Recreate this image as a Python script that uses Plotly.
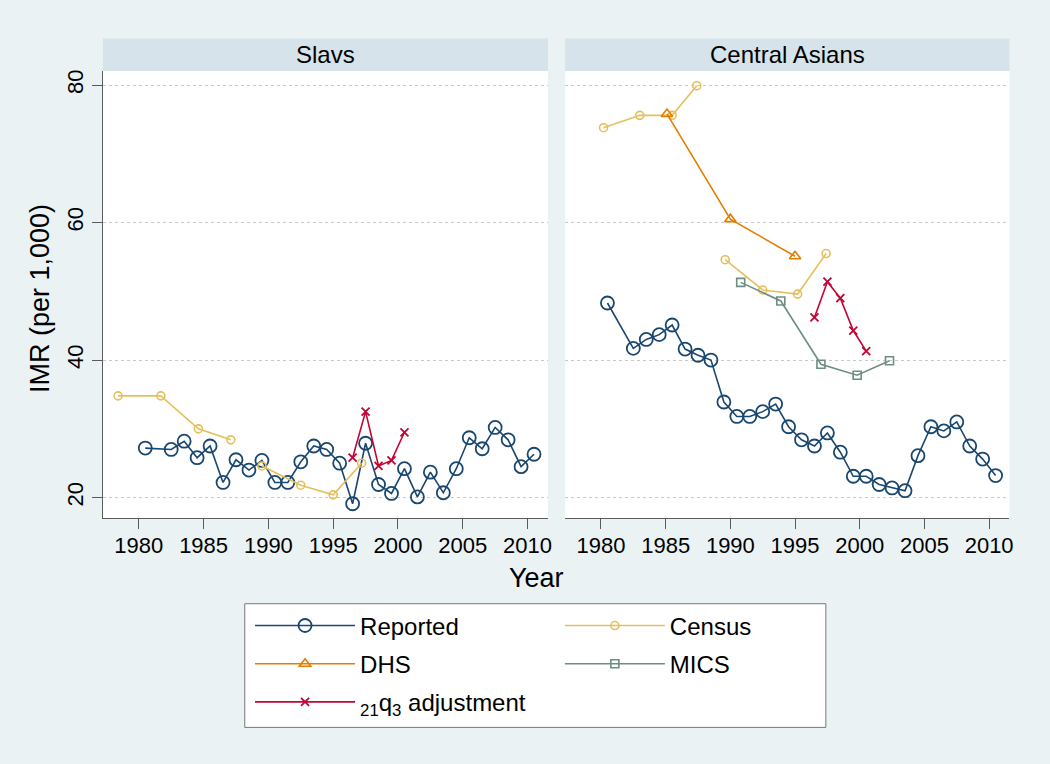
import plotly.graph_objects as go

# ---------------- data ----------------
rep_years = [1980.5, 1982.5, 1983.5, 1984.5, 1985.5, 1986.5, 1987.5, 1988.5, 1989.5,
             1990.5, 1991.5, 1992.5, 1993.5, 1994.5, 1995.5, 1996.5, 1997.5, 1998.5,
             1999.5, 2000.5, 2001.5, 2002.5, 2003.5, 2004.5, 2005.5, 2006.5, 2007.5,
             2008.5, 2009.5, 2010.5]
rep_slavs = [27.2, 27.0, 28.2, 25.8, 27.5, 22.2, 25.5, 24.0, 25.4, 22.2, 22.2, 25.2,
             27.5, 27.0, 25.0, 19.1, 27.9, 21.9, 20.6, 24.2, 20.1, 23.7, 20.7, 24.2,
             28.7, 27.1, 30.2, 28.4, 24.5, 26.3]
rep_casia = [48.3, 41.7, 43.0, 43.7, 45.1, 41.6, 40.7, 40.0, 33.9, 31.8, 31.8, 32.5,
             33.6, 30.3, 28.4, 27.5, 29.4, 26.6, 23.1, 23.1, 21.9, 21.4, 21.0, 26.1,
             30.3, 29.7, 31.0, 27.5, 25.6, 23.2]

census_years_slavs = [1978.4, 1981.7, 1984.6, 1987.1, None, 1989.5, 1992.5, 1995.0, 1997.2]
census_slavs = [34.8, 34.8, 30.0, 28.4, None, 24.6, 21.8, 20.4, 25.0]
census_years_casia = [1980.2, 1983.0, 1985.5, 1987.4, None, 1989.6, 1992.5, 1995.2, 1997.4]
census_casia = [73.8, 75.6, 75.6, 79.9, None, 54.6, 50.2, 49.6, 55.5]

dhs_years_casia = [1985.1, 1990.0, 1995.0]
dhs_casia = [75.8, 60.5, 55.1]

mics_years_casia = [1990.8, 1993.9, 1997.0, 1999.8, 2002.3]
mics_casia = [51.3, 48.6, 39.4, 37.8, 39.9]

adj_years = [1996.5, 1997.5, 1998.5, 1999.5, 2000.5]
adj_slavs = [25.8, 32.5, 24.6, 25.4, 29.5]
adj_casia = [46.2, 51.4, 49.0, 44.3, 41.3]

panels = ["Slavs", "Central Asians"]
x_ticks = [1980, 1985, 1990, 1995, 2000, 2005, 2010]
y_ticks = [20, 40, 60, 80]

# ---------------- style ----------------
C_REP = "rgb(26,71,111)"
C_CEN = "rgb(228,192,92)"
C_DHS = "rgb(227,126,0)"
C_MICS = "rgb(110,142,132)"
C_ADJ = "rgb(193,5,52)"
BG = "rgb(234,242,243)"
STRIP = "rgb(214,227,234)"
FONT = "Liberation Sans, Arial, Helvetica, sans-serif"

W, H = 1050, 764
def px(x):
    return x / W
def py(y):
    return 1 - y / H

fig = go.Figure()

def add(xs, ys, name, color, symbol, size, xa, ya, legend, show, rank, lw=1.6):
    fig.add_trace(go.Scatter(
        x=xs, y=ys, mode="lines+markers", name=name, xaxis=xa, yaxis=ya,
        line=dict(color=color, width=1.6), connectgaps=False,
        marker=dict(symbol=symbol, size=size, color=color,
                    line=dict(color=color, width=lw)),
        legend=legend, showlegend=show, legendgroup=name, legendrank=rank,
    ))

# Slavs panel
add(rep_years, rep_slavs, "Reported", C_REP, "circle-open", 13, "x", "y", "legend", True, 1, 1.8)
add(census_years_slavs, census_slavs, "Census", C_CEN, "circle-open", 8, "x", "y", "legend2", True, 1)
add(adj_years, adj_slavs, "<sub>21</sub>q<sub>3</sub> adjustment", C_ADJ, "x-thin-open", 8, "x", "y", "legend", True, 3, 1.8)
# Central Asians panel
add(rep_years, rep_casia, "Reported", C_REP, "circle-open", 13, "x2", "y2", "legend", False, 1, 1.8)
add(census_years_casia, census_casia, "Census", C_CEN, "circle-open", 8, "x2", "y2", "legend2", False, 1)
add(dhs_years_casia, dhs_casia, "DHS", C_DHS, "triangle-up-open", 10, "x2", "y2", "legend", True, 2)
add(mics_years_casia, mics_casia, "MICS", C_MICS, "square-open", 8, "x2", "y2", "legend2", True, 2)
add(adj_years, adj_casia, "<sub>21</sub>q<sub>3</sub> adjustment", C_ADJ, "x-thin-open", 8, "x2", "y2", "legend", False, 3, 1.8)

xl = [px(103.3), px(550)]
xr = [px(567.3), px(1013.3)]
yd = [py(517.7), py(69.3)]
xrange = [1977.23, 2011.57]
yrange = [16.98, 82.03]

xcommon = dict(range=xrange, tickvals=x_ticks, ticks="outside", ticklen=10, tickwidth=1,
               tickcolor="rgb(90,90,90)", showline=True, linecolor="rgb(90,90,90)",
               linewidth=1, showgrid=False, zeroline=False, ticklabelstandoff=-3,
               tickfont=dict(family=FONT, size=22, color="black"), fixedrange=True)
ygrid = dict(range=yrange, tickvals=y_ticks, showgrid=True, gridcolor="rgb(200,200,200)",
             griddash="dot", gridwidth=1, zeroline=False, fixedrange=True)

legend_common = dict(xanchor="left", yanchor="top", orientation="v",
                     bgcolor="rgba(0,0,0,0)", borderwidth=0, itemwidth=100, tracegroupgap=4,
                     font=dict(family=FONT, size=24, color="black"), itemclick=False)

fig.update_layout(
    width=W, height=H, paper_bgcolor=BG, plot_bgcolor="white",
    margin=dict(l=0, r=0, t=0, b=0), autosize=False,
    xaxis=dict(domain=xl, anchor="y", **xcommon),
    xaxis2=dict(domain=xr, anchor="y2", **xcommon),
    yaxis=dict(domain=yd, anchor="x", ticks="outside", ticklen=10, tickcolor="rgb(90,90,90)",
               showline=True, linecolor="rgb(90,90,90)", linewidth=1, tickangle=-90,
               tickfont=dict(family=FONT, size=22, color="black"), **ygrid),
    yaxis2=dict(domain=yd, anchor="x2", showticklabels=False, ticks="", showline=False, **ygrid),
    font=dict(family=FONT, color="black"),
    legend=dict(x=px(251), y=py(603), **legend_common),
    legend2=dict(x=px(562), y=py(603), **legend_common),
)

shapes = []
# header strips
for dom in (xl, xr):
    shapes.append(dict(type="rect", xref="paper", yref="paper", x0=dom[0], x1=dom[1],
                       y0=py(69.3), y1=py(36.7), fillcolor=STRIP, line=dict(width=0),
                       layer="below"))
# legend box
shapes.append(dict(type="rect", xref="paper", yref="paper", x0=px(245.7), x1=px(829),
                   y0=py(727.3), y1=py(603.3), fillcolor="white",
                   line=dict(color="rgb(120,120,120)", width=1), layer="below"))
fig.update_layout(shapes=shapes)

annotations = []
for dom, name in zip((xl, xr), panels):
    annotations.append(dict(text=name, xref="paper", yref="paper", x=(dom[0] + dom[1]) / 2,
                            y=py(52.5), xanchor="center", yanchor="middle", showarrow=False,
                            font=dict(family=FONT, size=24, color="black")))
annotations.append(dict(text="Year", xref="paper", yref="paper", x=px(539), y=py(578),
                        xanchor="center", yanchor="middle", showarrow=False,
                        font=dict(family=FONT, size=27, color="black")))
annotations.append(dict(text="IMR (per 1,000)", xref="paper", yref="paper", x=px(40), y=py(297),
                        xanchor="center", yanchor="middle", showarrow=False, textangle=-90,
                        font=dict(family=FONT, size=27, color="black")))
fig.update_layout(annotations=annotations)

fig.write_html("out.html", config={"displayModeBar": False},
               post_script="document.body.style.margin='0';document.body.style.overflow='hidden';")
